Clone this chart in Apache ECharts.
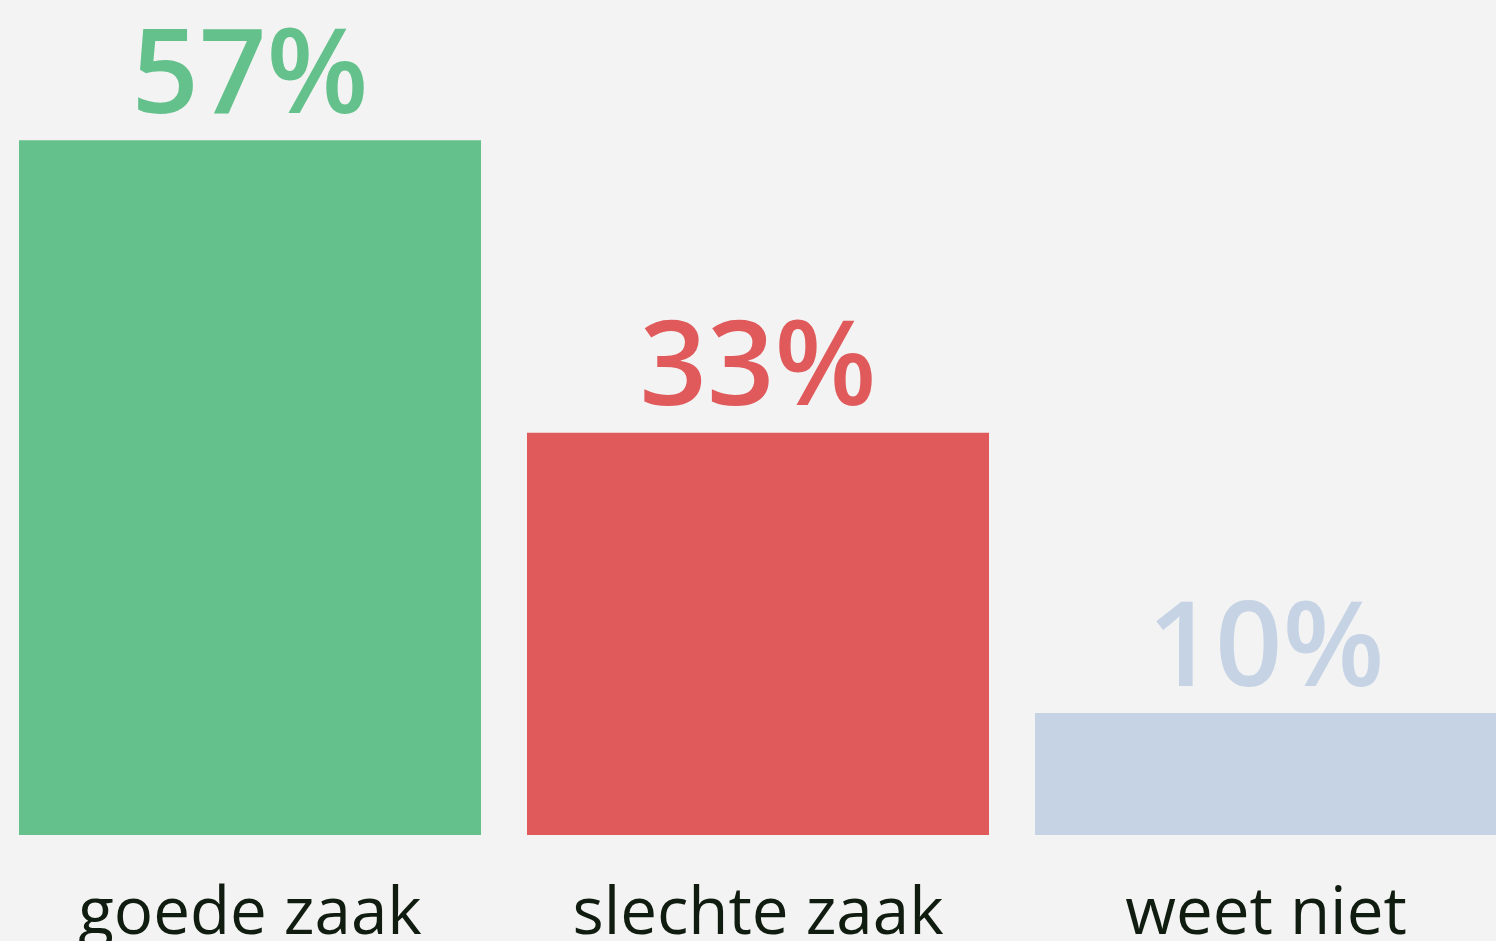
<!DOCTYPE html>
<html>
<head>
<meta charset="utf-8">
<script src="https://cdn.jsdelivr.net/npm/echarts@6/dist/echarts.min.js"></script>
<style>
  html, body { margin: 0; padding: 0; background: #f3f3f3; }
  #chart { width: 1496px; height: 941px; }
</style>
</head>
<body>
<div id="chart"></div>
<script>
// categorieën en percentages
var categories = ['goede zaak', 'slechte zaak', 'weet niet'];
var values = [57, 33, 10];
var colors = ['#64c18c', '#e05a5b', '#c5d3e5'];

var myChart = echarts.init(document.getElementById('chart'));

var barData = [];
for (var i = 0; i < values.length; i++) {
    barData.push({
        value: values[i],
        itemStyle: { color: colors[i] },
        label: { color: colors[i] }
    });
}

myChart.setOption({
    backgroundColor: '#f3f3f3',
    animation: false,
    grid: { left: -4, width: 1524, top: 0, bottom: 106, outerBoundsMode: 'none', containLabel: false },
    xAxis: {
        type: 'category',
        data: categories,
        axisLine: { show: false },
        axisTick: { show: false },
        axisLabel: {
            interval: 0,
            margin: 47,
            fontFamily: 'Open Sans',
            fontSize: 65.5,
            color: '#101c0f'
        }
    },
    yAxis: {
        type: 'value',
        min: 0,
        max: 68.5,
        show: false
    },
    series: [{
        type: 'bar',
        data: barData,
        barWidth: 462,
        label: {
            show: true,
            position: 'top',
            distance: 2,
            formatter: '{c}%',
            fontFamily: 'Open Sans',
            fontWeight: 600,
            fontSize: 118
        }
    }]
});
</script>
</body>
</html>
